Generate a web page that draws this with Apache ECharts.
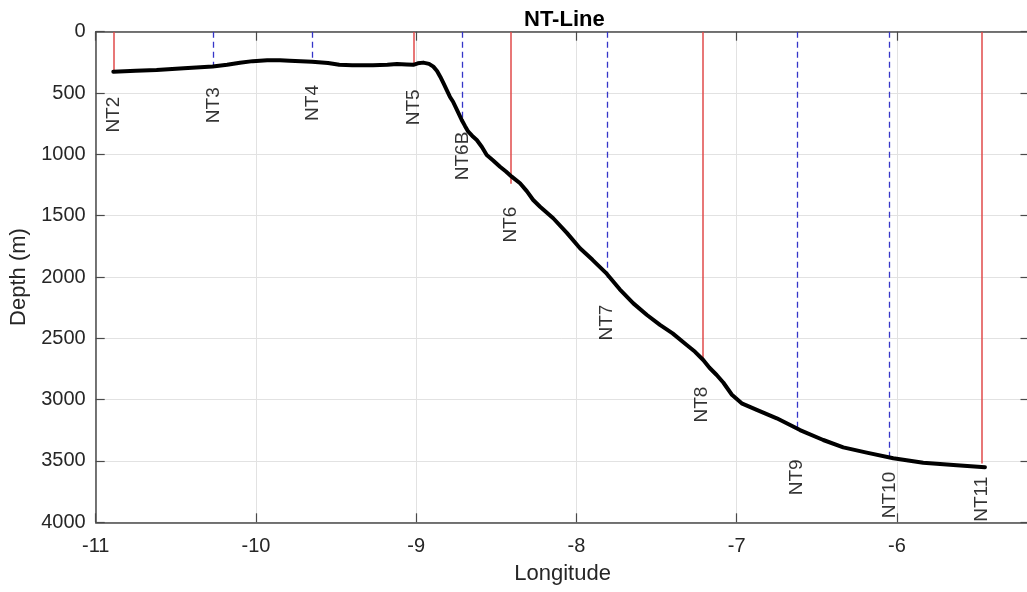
<!DOCTYPE html>
<html>
<head>
<meta charset="utf-8">
<script src="https://cdn.jsdelivr.net/npm/echarts@6/dist/echarts.min.js"></script>
<style>
html,body{margin:0;padding:0;background:#fff;}
#chart{width:1027px;height:592px;}
</style>
</head>
<body>
<div id="chart"></div>
<script>
// Bathymetry profile (longitude, depth in m)
const bathyLon = [-10.89,-10.75,-10.62,-10.45,-10.27,-10.18,-10.10,-10.02,-9.93,-9.85,-9.79,-9.65,-9.55,-9.48,-9.40,-9.27,-9.18,-9.12,-9.06,-9.018,-8.99,-8.956,-8.92,-8.893,-8.87,-8.85,-8.83,-8.81,-8.79,-8.77,-8.745,-8.716,-8.695,-8.675,-8.65,-8.622,-8.59,-8.56,-8.52,-8.477,-8.44,-8.404,-8.352,-8.31,-8.27,-8.227,-8.145,-8.06,-7.978,-7.90,-7.81,-7.73,-7.645,-7.56,-7.479,-7.40,-7.312,-7.26,-7.209,-7.17,-7.125,-7.084,-7.03,-6.969,-6.875,-6.75,-6.605,-6.46,-6.335,-6.189,-6.023,-5.836,-5.627,-5.451];
const bathyDepth = [326,318,312,298,283,270,253,240,232,233,236,245,256,270,274,273,270,264,268,270,258,252,262,285,320,367,420,475,530,571,640,720,770,815,850,883,940,1005,1050,1101,1140,1182,1236,1300,1372,1427,1521,1640,1766,1860,1975,2100,2215,2310,2391,2460,2554,2610,2677,2740,2799,2860,2960,3030,3084,3152,3248,3329,3389,3432,3478,3514,3535,3551];

// Stations
const stationNames = ['NT2','NT3','NT4','NT5','NT6B','NT6','NT7','NT8','NT9','NT10','NT11'];
const stationLon   = [-10.89,-10.265,-9.648,-9.018,-8.712,-8.409,-7.81,-7.215,-6.624,-6.046,-5.468];
const stationDepth = [330,280,240,270,720,1240,2030,2680,3240,3480,3520];
const stationKind  = ['main','sub','sub','main','sub','main','sub','main','sub','sub','main'];
const labelDepth   = [530,453,435,470,815,1427,2225,2894,3487,3588,3628];

// Axis ticks
const xTicks = [-11,-10,-9,-8,-7,-6];
const yTicks = [0,500,1000,1500,2000,2500,3000,3500,4000];

const axisColor = '#4a4a4a';
const textColor = '#262626';
const font = '"Liberation Sans", Arial, Helvetica, sans-serif';

const lineData = stationNames.map((n,i)=>({
  coords: [[stationLon[i],0],[stationLon[i],stationDepth[i]]],
  lineStyle: stationKind[i]==='main'
    ? {color:'#e04a4a', width:1.5, type:'solid', opacity:1}
    : {color:'#3535c8', width:1.3, type:[6,4], opacity:1}
}));

const chart = echarts.init(document.getElementById('chart'), null, {renderer:'canvas'});
const xMin = xTicks[0], xMax = -5.173;
chart.setOption({
  animation:false,
  backgroundColor:'#ffffff',
  title:{
    text:'NT-Line', left:519, top:4,
    textStyle:{fontFamily:font, fontSize:22, fontWeight:'bold', color:'#000'}
  },
  grid:{left:95.7, top:31.7, width:933.8, height:490.6, containLabel:false, outerBoundsMode:'none'},
  xAxis:[{
    type:'value', position:'bottom', min:xMin, max:xMax, interval:1,
    name:'Longitude', nameLocation:'middle', nameGap:41,
    nameTextStyle:{fontFamily:font, fontSize:22, color:textColor},
    axisLine:{show:true, onZero:false, lineStyle:{color:axisColor, width:1.5}},
    axisTick:{show:true, inside:true, length:9, lineStyle:{color:axisColor, width:1.2}},
    axisLabel:{fontFamily:font, fontSize:20, color:textColor, margin:14,
      showMaxLabel:false,
      formatter:v=> xTicks.indexOf(Math.round(v*1000)/1000)>=0 ? String(Math.round(v)) : ''},
    splitLine:{show:true, lineStyle:{color:'#e2e2e2', width:1}}
  },{
    type:'value', position:'top', min:xMin, max:xMax, interval:1,
    axisLine:{show:true, onZero:false, lineStyle:{color:axisColor, width:1.5}},
    axisTick:{show:true, inside:true, length:9, lineStyle:{color:axisColor, width:1.2}},
    axisLabel:{show:false}, splitLine:{show:false}
  }],
  yAxis:[{
    type:'value', position:'left', inverse:true, min:yTicks[0], max:yTicks[yTicks.length-1], interval:500,
    name:'Depth (m)', nameLocation:'middle', nameGap:64, nameRotate:90,
    nameTextStyle:{fontFamily:font, fontSize:22, color:textColor},
    axisLine:{show:true, onZero:false, lineStyle:{color:axisColor, width:1.5}},
    axisTick:{show:true, inside:true, length:9, lineStyle:{color:axisColor, width:1.2}},
    axisLabel:{fontFamily:font, fontSize:20, color:textColor, margin:10, formatter:v=>String(v)},
    splitLine:{show:true, lineStyle:{color:'#e2e2e2', width:1}}
  },{
    type:'value', position:'right', inverse:true, min:yTicks[0], max:yTicks[yTicks.length-1], interval:500,
    axisLine:{show:true, onZero:false, lineStyle:{color:axisColor, width:1.5}},
    axisTick:{show:true, inside:true, length:9, lineStyle:{color:axisColor, width:1.2}},
    axisLabel:{show:false}, splitLine:{show:false}
  }],
  series:[{
    type:'lines', coordinateSystem:'cartesian2d', xAxisIndex:0, yAxisIndex:0,
    polyline:false, silent:true, z:2,
    data: lineData
  },{
    type:'line', xAxisIndex:0, yAxisIndex:0, z:3,
    data: bathyLon.map((x,i)=>[x,bathyDepth[i]]),
    showSymbol:false, symbol:'none', smooth:false,
    lineStyle:{color:'#000', width:4, join:'round', cap:'round'}
  },{
    type:'scatter', xAxisIndex:0, yAxisIndex:0, z:4,
    symbolSize:0, silent:true,
    data: stationNames.map((n,i)=>({name:n, value:[stationLon[i], labelDepth[i]]})),
    label:{show:true, position:'inside', formatter:p=>p.name, rotate:90,
      align:'right', verticalAlign:'middle',
      fontFamily:font, fontSize:19, color:'#000'}
  }]
});
</script>
</body>
</html>
